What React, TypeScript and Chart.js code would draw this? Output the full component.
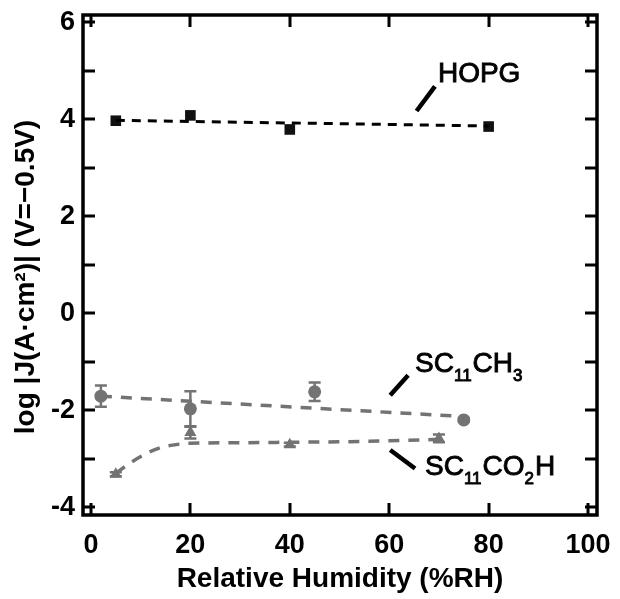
import React, { useEffect, useRef } from "react";
import { Chart, registerables } from "chart.js";

Chart.register(...registerables);

// ---- data ----
const hopgX = [5, 20, 40, 80];
const hopgY = [3.97, 4.08, 3.79, 3.85];
const hopgFitX = [5, 80];
const hopgFitY = [3.98, 3.86];

const ch3X = [2, 20, 45, 75];
const ch3Y = [-1.71, -1.97, -1.62, -2.2];
const ch3Err = [0.22, 0.36, 0.19, 0.04];
const ch3FitX = [2, 75];
const ch3FitY = [-1.71, -2.13];

const co2hX = [5, 20, 40, 70];
const co2hY = [-3.32, -2.46, -2.71, -2.58];
const co2hErr = [0.04, 0.12, 0.04, 0.08];
const co2hFitX = [5, 8, 11, 14, 17, 20, 30, 40, 50, 60, 70];
const co2hFitY = [-3.3, -3.08, -2.9, -2.77, -2.71, -2.68, -2.67, -2.66, -2.65, -2.63, -2.6];

const xTicks = [0, 20, 40, 60, 80, 100];
const yTicks = [-4, -3, -2, -1, 0, 1, 2, 3, 4, 5, 6];
const yLabelTicks = [-4, -2, 0, 2, 4, 6];

const xTitle = "Relative Humidity (%RH)";
const yTitle = "log |J(A·cm²)| (V=−0.5V)";

// annotation labels: text parts [text, isSubscript], anchor (data), leader line (data)
const labelHOPG = { parts: [["HOPG", 0]], x: 69.8, y: 4.92, lx: [65.5, 69.2], ly: [4.17, 4.68] };
const labelCH3 = { parts: [["SC", 0], ["11", 1], ["CH", 0], ["3", 1]], x: 65.2, y: -1.05, lx: [60.2, 63.8], ly: [-1.69, -1.28] };
const labelCO2H = { parts: [["SC", 0], ["11", 1], ["CO", 0], ["2", 1], ["H", 0]], x: 67.2, y: -3.18, lx: [60.2, 65.2], ly: [-2.82, -3.2] };

const GRAY = "#737373";
const SANS = '"Liberation Sans", Arial, sans-serif';

const pts = (xs: number[], ys: number[]) => xs.map((x, i) => ({ x, y: ys[i] }));

const errorBars = [
  { xs: ch3X, ys: ch3Y, err: ch3Err, color: GRAY },
  { xs: co2hX, ys: co2hY, err: co2hErr, color: GRAY },
];

const framePlugin = {
  id: "frameTicks",
  afterDatasetsDraw(chart: any) {
    const { ctx, chartArea: a, scales } = chart;
    const xs = scales.x;
    const ys = scales.y;
    ctx.save();
    // error bars
    errorBars.forEach((eb) => {
      ctx.strokeStyle = eb.color;
      ctx.lineWidth = 2.5;
      eb.xs.forEach((x, i) => {
        const px = xs.getPixelForValue(x);
        const top = ys.getPixelForValue(eb.ys[i] + eb.err[i]);
        const bot = ys.getPixelForValue(eb.ys[i] - eb.err[i]);
        if (bot - top < 3) return;
        ctx.beginPath();
        ctx.moveTo(px, top);
        ctx.lineTo(px, bot);
        ctx.moveTo(px - 6, top);
        ctx.lineTo(px + 6, top);
        ctx.moveTo(px - 6, bot);
        ctx.lineTo(px + 6, bot);
        ctx.stroke();
      });
    });
    // frame
    ctx.strokeStyle = "#000";
    ctx.lineWidth = 3.5;
    ctx.strokeRect(a.left, a.top, a.right - a.left, a.bottom - a.top);
    // ticks inward
    const tl = 12;
    ctx.lineWidth = 3;
    ctx.beginPath();
    xTicks.forEach((v) => {
      const p = Math.round(xs.getPixelForValue(v));
      ctx.moveTo(p, a.bottom);
      ctx.lineTo(p, a.bottom - tl);
      ctx.moveTo(p, a.top);
      ctx.lineTo(p, a.top + tl);
    });
    yTicks.forEach((v) => {
      const p = Math.round(ys.getPixelForValue(v));
      ctx.moveTo(a.left, p);
      ctx.lineTo(a.left + tl, p);
      ctx.moveTo(a.right, p);
      ctx.lineTo(a.right - tl, p);
    });
    ctx.stroke();
    // labels with leader lines
    [labelHOPG, labelCH3, labelCO2H].forEach((lb) => {
      ctx.strokeStyle = "#000";
      ctx.lineWidth = 4.5;
      ctx.lineCap = "butt";
      ctx.beginPath();
      ctx.moveTo(xs.getPixelForValue(lb.lx[0]), ys.getPixelForValue(lb.ly[0]));
      ctx.lineTo(xs.getPixelForValue(lb.lx[1]), ys.getPixelForValue(lb.ly[1]));
      ctx.stroke();
      let px = xs.getPixelForValue(lb.x);
      const py = ys.getPixelForValue(lb.y);
      ctx.fillStyle = "#000";
      ctx.strokeStyle = "#000";
      ctx.lineWidth = 0.9;
      ctx.textBaseline = "middle";
      ctx.textAlign = "left";
      lb.parts.forEach(([t, sub]) => {
        const s = t as string;
        if (sub) {
          ctx.font = `17px ${SANS}`;
          ctx.fillText(s, px, py + 12);
          ctx.strokeText(s, px, py + 12);
        } else {
          ctx.font = `28px ${SANS}`;
          ctx.fillText(s, px, py);
          ctx.strokeText(s, px, py);
        }
        px += ctx.measureText(s).width + (sub ? 1 : 0);
      });
    });
    // y axis title
    ctx.save();
    ctx.translate(26, 277);
    ctx.rotate(-Math.PI / 2);
    ctx.font = `bold 28px ${SANS}`;
    ctx.fillStyle = "#000";
    ctx.textAlign = "center";
    ctx.textBaseline = "middle";
    ctx.fillText(yTitle, 0, 0);
    ctx.restore();
    ctx.restore();
  },
};

export default function App() {
  const ref = useRef<HTMLCanvasElement>(null);
  useEffect(() => {
    if (!ref.current) return;
    const chart = new Chart(ref.current, {
      type: "scatter",
      data: {
        datasets: [
          {
            label: "HOPG fit",
            data: pts(hopgFitX, hopgFitY),
            showLine: true,
            borderColor: "#000",
            borderWidth: 3,
            borderDash: [9, 7],
            pointRadius: 0,
          },
          {
            label: "SC11CH3 fit",
            data: pts(ch3FitX, ch3FitY),
            showLine: true,
            borderColor: GRAY,
            borderWidth: 3.5,
            borderDash: [11, 9],
            pointRadius: 0,
          },
          {
            label: "SC11CO2H fit",
            data: pts(co2hFitX, co2hFitY),
            showLine: true,
            cubicInterpolationMode: "monotone",
            borderColor: GRAY,
            borderWidth: 3.5,
            borderDash: [11, 9],
            pointRadius: 0,
          },
          {
            label: "HOPG",
            data: pts(hopgX, hopgY),
            pointStyle: "rect",
            pointRadius: 7.5,
            backgroundColor: "#111",
            borderColor: "#111",
            borderWidth: 0,
          },
          {
            label: "SC11CH3",
            data: pts(ch3X, ch3Y),
            pointStyle: "circle",
            pointRadius: 6.5,
            backgroundColor: GRAY,
            borderColor: GRAY,
            borderWidth: 0,
          },
          {
            label: "SC11CO2H",
            data: pts(co2hX, co2hY),
            pointStyle: "triangle",
            pointRadius: 7,
            backgroundColor: GRAY,
            borderColor: GRAY,
            borderWidth: 0,
          },
        ],
      },
      options: {
        animation: false,
        responsive: false,
        maintainAspectRatio: false,
        layout: { padding: { left: 0, top: 15, right: 23, bottom: 0 } },
        plugins: { legend: { display: false }, tooltip: { enabled: false } },
        scales: {
          x: {
            type: "linear",
            min: -1.6,
            max: 101.8,
            afterBuildTicks: (s: any) => {
              s.ticks = xTicks.map((v) => ({ value: v }));
            },
            afterFit: (s: any) => {
              s.height = 84;
              s.paddingLeft = 0;
              s.paddingRight = 0;
            },
            grid: { display: false, drawTicks: false },
            border: { display: false },
            ticks: {
              color: "#000",
              padding: 14,
              maxRotation: 0,
              autoSkip: false,
              font: { family: SANS, size: 27, weight: "bold" },
            },
            title: {
              display: true,
              text: xTitle,
              color: "#000",
              padding: { top: 2, bottom: 3 },
              font: { family: SANS, size: 28, weight: "bold" },
            },
          },
          y: {
            type: "linear",
            min: -4.16,
            max: 6.15,
            afterBuildTicks: (s: any) => {
              s.ticks = yTicks.map((v) => ({ value: v }));
            },
            afterFit: (s: any) => {
              s.width = 83;
              s.paddingTop = 0;
              s.paddingBottom = 0;
            },
            grid: { display: false, drawTicks: false },
            border: { display: false },
            ticks: {
              color: "#000",
              padding: 8,
              autoSkip: false,
              callback: (v: any) => (yLabelTicks.includes(v) ? String(v) : ""),
              font: { family: SANS, size: 27, weight: "bold" },
            },
            title: { display: false, text: yTitle },
          },
        },
      },
      plugins: [framePlugin],
    });
    return () => chart.destroy();
  }, []);
  return (
    <div style={{ position: "absolute", left: 0, top: 0, width: 620, height: 599, background: "#fff" }}>
      <canvas ref={ref} width={620} height={599} style={{ display: "block" }} />
    </div>
  );
}
